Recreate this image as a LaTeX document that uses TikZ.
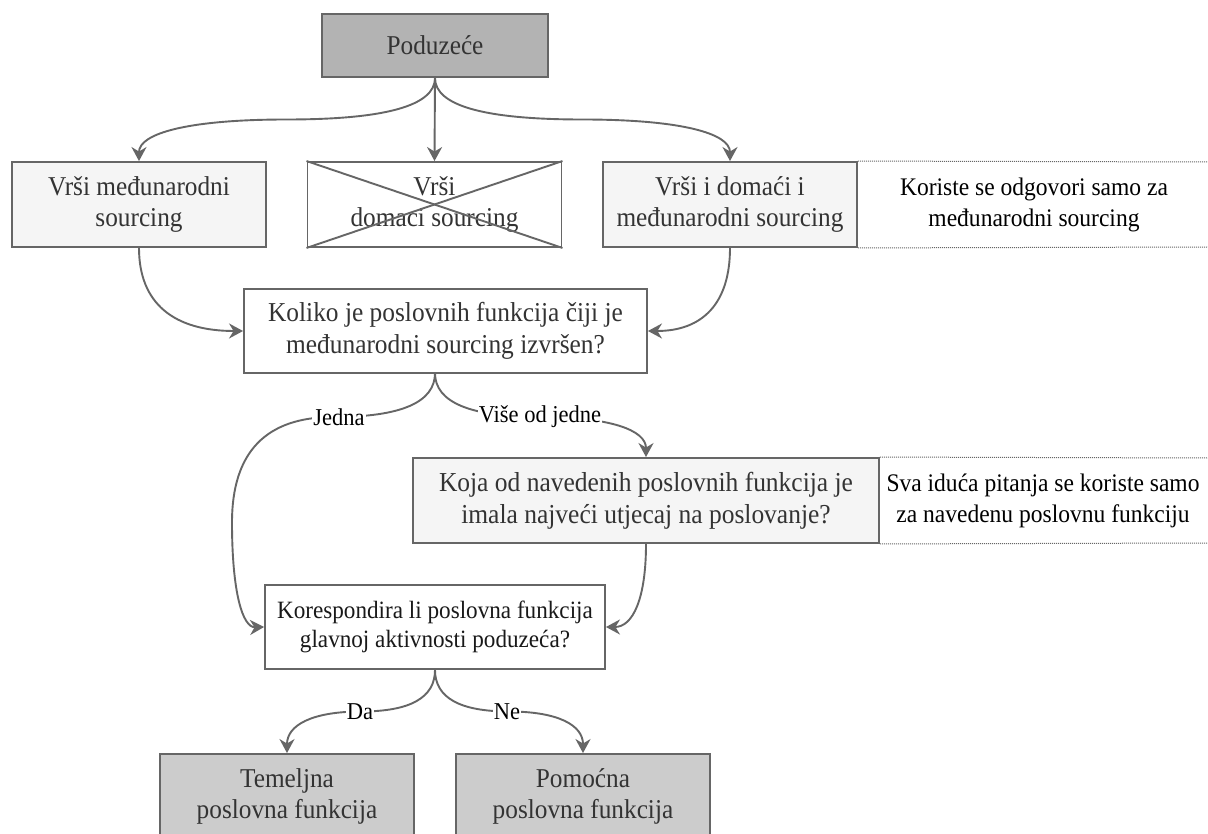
\documentclass[tikz,border=0pt]{standalone}
\usepackage{fontspec}
\setmainfont{Liberation Serif}[FakeStretch=0.93]
\usetikzlibrary{arrows.meta,calc}
\definecolor{ln}{HTML}{666666}
\definecolor{txt}{HTML}{333333}
\definecolor{darkfill}{HTML}{B3B3B3}
\definecolor{midfill}{HTML}{CCCCCC}
\definecolor{lightfill}{HTML}{F5F5F5}
\newcommand\qcurve[3]{.. controls ($(#1)!2/3!(#2)$) and ($(#3)!2/3!(#2)$) .. (#3)}
\tikzset{
  box/.style={draw=ln, line width=1.9pt, inner sep=0pt, align=center, text=txt,
    font=\fontsize{27.2}{31.5}\selectfont},
  edge/.style={draw=ln, line width=1.9pt, -{Stealth[length=14pt,width=15pt,inset=4.5pt]}},
  lbl/.style={fill=white, inner sep=1pt, text=black, font=\fontsize{24.2}{28}\selectfont},
  note/.style={align=center, text=black, font=\fontsize{25.3}{31}\selectfont},
  dotline/.style={draw=ln, line width=1pt, dash pattern=on 1pt off 1pt}
}
\begin{document}
\begin{tikzpicture}[x=1pt,y=-1pt]
\useasboundingbox (0,0) rectangle (1208,834);
\clip (0,0) rectangle (1208,834);
\fill[white] (0,0) rectangle (1208,834);

% nodes
\node[box, fill=darkfill, minimum width=226pt, minimum height=63pt] (pod) at (435,45.5) {Poduzeće};
\node[box, fill=lightfill, minimum width=254pt, minimum height=85pt] (b1) at (139,204.5) {Vrši međunarodni\\sourcing};
\node[box, fill=white, minimum width=254pt, minimum height=85pt] (b2) at (434.5,204.5) {Vrši\\domaci sourcing};
\node[box, fill=lightfill, minimum width=254pt, minimum height=85pt] (b3) at (730,204.5) {Vrši i domaći i\\međunarodni sourcing};
\node[note] (n1) at (1034,204.5) {Koriste se odgovori samo za\\međunarodni sourcing};
\node[box, fill=white, minimum width=403pt, minimum height=84pt, font=\fontsize{27.3}{31.5}\selectfont] (kol) at (445.5,331) {Koliko je poslovnih funkcija čiji je\\međunarodni sourcing izvršen?};
\node[box, fill=lightfill, minimum width=466pt, minimum height=85pt, font=\fontsize{27.4}{32}\selectfont] (koja) at (646,500.5) {Koja od navedenih poslovnih funkcija je\\imala najveći utjecaj na poslovanje?};
\node[note] (n2) at (1043,500.5) {Sva iduća pitanja se koriste samo\\za navedenu poslovnu funkciju};
\node[box, fill=white, minimum width=340pt, minimum height=84pt, text=black!90, font=\fontsize{24.9}{29.5}\selectfont] (kor) at (435,627) {Korespondira li poslovna funkcija\\glavnoj aktivnosti poduzeća?};
\node[box, fill=midfill, minimum width=254pt, minimum height=85pt] (tem) at (287,796.5) {Temeljna\\poslovna funkcija};
\node[box, fill=midfill, minimum width=254pt, minimum height=85pt] (pom) at (583,796.5) {Pomoćna\\poslovna funkcija};

% cross on b2
\draw[ln, line width=1.9pt] (b2.north west) -- (b2.south east);
\draw[ln, line width=1.9pt] (b2.south west) -- (b2.north east);

% dotted note lines
\draw[dotline] (b3.north east) -- (1208,162);
\draw[dotline] (b3.south east) -- (1208,247);
\draw[dotline] (koja.north east) -- (1208,458);
\draw[dotline] (koja.south east) -- (1208,543);

% helper coordinates
\coordinate (c1a) at (435,119.5);
\coordinate (c1m) at (286.5,119.5);
\coordinate (c1b) at (139,119.5);
\coordinate (c3m) at (582.5,119.5);
\coordinate (c3b) at (730,119.5);
\coordinate (kolout) at (435,373);
\coordinate (c6a) at (435,417);
\coordinate (c6m) at (333.5,417);
\coordinate (c6b) at (232,417);
\coordinate (c6n) at (232,522.5);
\coordinate (c6c) at (232,628);
\coordinate (c7m) at (540.5,417);
\coordinate (c7b) at (646,417);
\coordinate (c9a) at (435,711.5);
\coordinate (c9m) at (361,711.5);
\coordinate (c9b) at (287,711.5);
\coordinate (c10m) at (509,711.5);
\coordinate (c10b) at (583,711.5);

% edges
\draw[edge] (pod.south) \qcurve{pod.south}{c1a}{c1m} \qcurve{c1m}{c1b}{b1.north};
\draw[edge] (pod.south) -- (b2.north);
\draw[edge] (pod.south) \qcurve{pod.south}{c1a}{c3m} \qcurve{c3m}{c3b}{b3.north};
\draw[edge] (b1.south) \qcurve{b1.south}{b1.south |- kol.west}{kol.west};
\draw[edge] (b3.south) \qcurve{b3.south}{b3.south |- kol.east}{kol.east};
\draw[edge] (kolout) \qcurve{kolout}{c6a}{c6m} \qcurve{c6m}{c6b}{c6n} \qcurve{c6n}{c6c}{kor.west};
\draw[edge] (kolout) \qcurve{kolout}{c6a}{c7m} \qcurve{c7m}{c7b}{koja.north};
\draw[edge] (koja.south) \qcurve{koja.south}{koja.south |- kor.east}{kor.east};
\draw[edge] (kor.south) \qcurve{kor.south}{c9a}{c9m} \qcurve{c9m}{c9b}{tem.north};
\draw[edge] (kor.south) \qcurve{kor.south}{c9a}{c10m} \qcurve{c10m}{c10b}{pom.north};

% labels
\node[lbl] (l1) at (339,417) {Jedna};
\node[lbl] (l2) at (540,417) {Više od jedne};
\node[lbl] (l3) at (360,712) {Da};
\node[lbl] (l4) at (507,712) {Ne};
\end{tikzpicture}
\end{document}
